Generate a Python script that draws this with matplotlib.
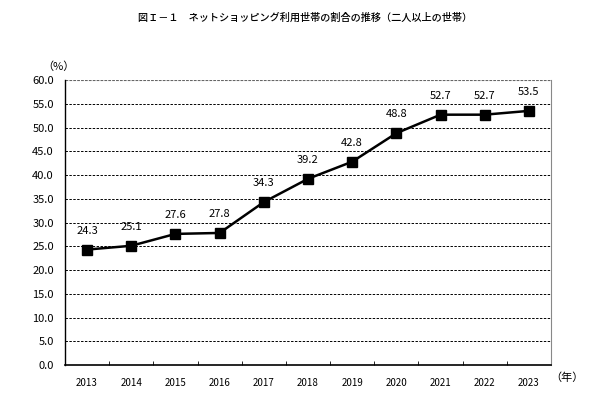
import matplotlib
matplotlib.use("Agg")
import matplotlib.pyplot as plt
import numpy as np

plt.rcParams['font.family'] = ['Noto Sans CJK JP', 'DejaVu Sans']

years = ["2013", "2014", "2015", "2016", "2017", "2018",
         "2019", "2020", "2021", "2022", "2023"]
share = [24.3, 25.1, 27.6, 27.8, 34.3, 39.2, 42.8, 48.8, 52.7, 52.7, 53.5]
yticks = np.arange(0, 60.1, 5)

fig = plt.figure(figsize=(6.16, 4.12), dpi=100)
ax = fig.add_axes([65 / 616, 1 - 365 / 412, 486 / 616, 285 / 412])

x = np.arange(len(years))
ax.plot(x, share, color="black", lw=1.8, marker="s", ms=6.5, zorder=3)
for xi, v in zip(x, share):
    ax.annotate(f"{v:.1f}", (xi, v), xytext=(0, 10), textcoords="offset points",
                ha="center", va="bottom", fontsize=8)

ax.set_xlim(-0.5, len(years) - 0.5)
ax.set_ylim(0, 60)
ax.set_yticks(yticks)
ax.set_yticklabels([f"{t:.1f}" for t in yticks], fontsize=8)
ax.tick_params(axis="y", length=0, pad=8)
ax.set_xticks(x)
ax.set_xticklabels(years, fontsize=7)
ax.tick_params(axis="x", length=0, pad=9)
ax.set_xticks(np.arange(0.5, len(years) - 1, 1), minor=True)
ax.tick_params(axis="x", which="minor", direction="in", length=3, width=0.6)

for t in yticks[1:-1]:
    ax.axhline(t, color="black", lw=0.7, ls=(0, (2.5, 1.5)), zorder=1)
ax.axhline(60, color="#666666", lw=0.8, ls=(0, (2.5, 1)), zorder=1)

ax.spines["top"].set_visible(False)
ax.spines["right"].set_color("#888888")
ax.spines["left"].set_linewidth(1.0)
ax.spines["bottom"].set_linewidth(1.2)

fig.text(305 / 616, 1 - 18 / 412,
         "図Ｉ－１　ネットショッピング利用世帯の割合の推移（二人以上の世帯）",
         ha="center", va="center", fontsize=7.3, fontweight="medium")
fig.text(58 / 616, 1 - 67 / 412, "（%）", ha="center", va="center", fontsize=8)
fig.text(567 / 616, 1 - 378 / 412, "（年）", ha="center", va="center", fontsize=8)

fig.savefig("out.png", dpi=100)
